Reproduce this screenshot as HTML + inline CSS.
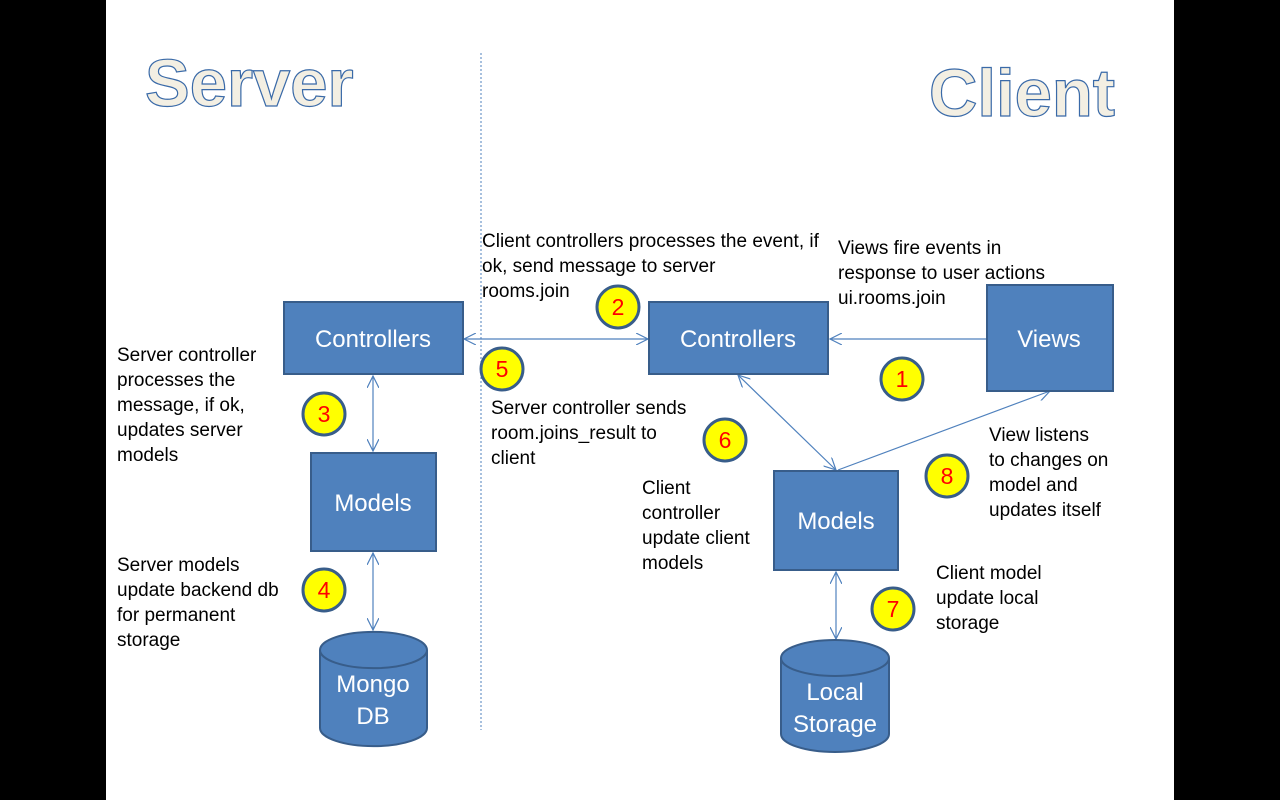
<!DOCTYPE html>
<html><head><meta charset="utf-8"><style>
html,body{margin:0;padding:0;background:#000;}
svg{display:block}
text{font-family:"Liberation Sans",sans-serif;}
</style></head><body>
<svg width="1280" height="800" viewBox="0 0 1280 800" xmlns="http://www.w3.org/2000/svg">
<defs>
<marker id="a" markerWidth="14" markerHeight="12" refX="12" refY="6" orient="auto-start-reverse" markerUnits="userSpaceOnUse">
<path d="M0,0 L12,6 L0,12" fill="none" stroke="#4f81bd" stroke-width="1.2"/></marker>
</defs>
<rect x="0" y="0" width="1280" height="800" fill="#000"/>
<rect x="106" y="0" width="1068" height="800" fill="#fff"/>
<text x="145" y="106" font-size="67" font-weight="bold" fill="#f3efe3" stroke="#3a6aa8" stroke-width="1.2">Server</text>
<text x="929" y="116" font-size="67" font-weight="bold" fill="#f3efe3" stroke="#3a6aa8" stroke-width="1.2">Client</text>
<line x1="481" y1="53" x2="481" y2="730" stroke="#4f81bd" stroke-width="1" stroke-dasharray="2,2"/>
<g stroke="#4f81bd" stroke-width="1.2" fill="none">
<line x1="464" y1="339" x2="648" y2="339" marker-start="url(#a)" marker-end="url(#a)"/>
<line x1="986" y1="339" x2="830" y2="339" marker-end="url(#a)"/>
<line x1="373" y1="376" x2="373" y2="451" marker-start="url(#a)" marker-end="url(#a)"/>
<line x1="373" y1="553" x2="373" y2="630" marker-start="url(#a)" marker-end="url(#a)"/>
<line x1="738" y1="375" x2="836" y2="470" marker-start="url(#a)" marker-end="url(#a)"/>
<line x1="838" y1="470" x2="1050" y2="391" marker-end="url(#a)"/>
<line x1="836" y1="572" x2="836" y2="639" marker-start="url(#a)" marker-end="url(#a)"/>
</g>
<g fill="#4f81bd" stroke="#385d8a" stroke-width="2">
<rect x="284" y="302" width="179" height="72"/>
<rect x="649" y="302" width="179" height="72"/>
<rect x="987" y="285" width="126" height="106"/>
<rect x="311" y="453" width="125" height="98"/>
<rect x="774" y="471" width="124" height="99"/>
<path d="M320,650 v78 a53,18 0 0 0 107,0 v-78 a53,18 0 0 0 -107,0 a53,18 0 0 0 107,0"/>
<path d="M781,658 v76 a54,18 0 0 0 108,0 v-76 a54,18 0 0 0 -108,0 a54,18 0 0 0 108,0"/>
</g>
<g fill="#fff" font-size="24" text-anchor="middle">
<text x="373" y="347">Controllers</text>
<text x="738" y="347">Controllers</text>
<text x="1049" y="347">Views</text>
<text x="373" y="511">Models</text>
<text x="836" y="529">Models</text>
<text x="373" y="692">Mongo</text>
<text x="373" y="724">DB</text>
<text x="835" y="700">Local</text>
<text x="835" y="732">Storage</text>
</g>
<g fill="#ffff00" stroke="#385d8a" stroke-width="3">
<circle cx="618" cy="307" r="21"/><circle cx="502" cy="369" r="21"/>
<circle cx="324" cy="414" r="21"/><circle cx="902" cy="379" r="21"/>
<circle cx="725" cy="440" r="21"/><circle cx="947" cy="476" r="21"/>
<circle cx="324" cy="590" r="21"/><circle cx="893" cy="609" r="21"/>
</g>
<g fill="#f00" font-size="23" text-anchor="middle">
<text x="618" y="315">2</text><text x="502" y="377">5</text>
<text x="324" y="422">3</text><text x="902" y="387">1</text>
<text x="725" y="448">6</text><text x="947" y="484">8</text>
<text x="324" y="598">4</text><text x="893" y="617">7</text>
</g>
<g fill="#000" font-size="19">
<text x="482" y="247">Client controllers processes the event, if</text>
<text x="482" y="272">ok, send message to server</text>
<text x="482" y="297">rooms.join</text>
<text x="838" y="254">Views fire events in</text>
<text x="838" y="279">response to user  actions</text>
<text x="838" y="304">ui.rooms.join</text>
<text x="117" y="361">Server controller</text>
<text x="117" y="386">processes the</text>
<text x="117" y="411">message, if ok,</text>
<text x="117" y="436">updates server</text>
<text x="117" y="461">models</text>
<text x="491" y="414">Server controller sends</text>
<text x="491" y="439">room.joins_result to</text>
<text x="491" y="464">client</text>
<text x="989" y="441">View listens</text>
<text x="989" y="466">to changes on</text>
<text x="989" y="491">model and</text>
<text x="989" y="516">updates itself</text>
<text x="642" y="494">Client</text>
<text x="642" y="519">controller</text>
<text x="642" y="544">update client</text>
<text x="642" y="569">models</text>
<text x="117" y="571">Server models</text>
<text x="117" y="596">update backend db</text>
<text x="117" y="621">for permanent</text>
<text x="117" y="646">storage</text>
<text x="936" y="579">Client model</text>
<text x="936" y="604">update local</text>
<text x="936" y="629">storage</text>
</g>
</svg>
</body></html>
